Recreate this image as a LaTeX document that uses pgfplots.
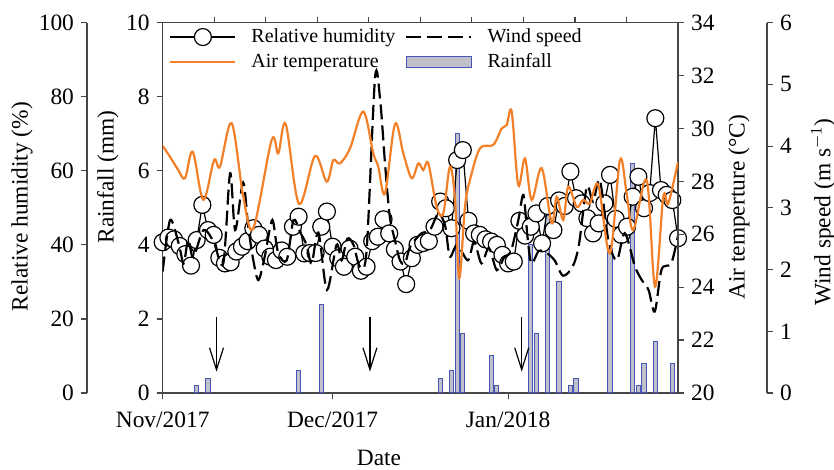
\documentclass[border=0pt]{standalone}
\usepackage{fontspec}
\setmainfont{Liberation Serif}
\usepackage{pgfplots}
\usepackage{pgfplotstable}
\pgfplotsset{compat=1.18}
\usetikzlibrary{arrows.meta}

\definecolor{tempc}{RGB}{242,128,40}
\definecolor{barfill}{RGB}{192,192,200}
\definecolor{baredge}{RGB}{70,85,185}
\definecolor{axc}{RGB}{70,70,70}

% daily relative humidity (%), day 0 = 1 Nov 2017
\pgfplotstableread{
day rh
0 40.7
1 42.0
2 41.5
3 39.7
4 37.5
5 34.4
6 41.3
7 50.8
8 44.0
9 42.7
10 36.5
11 35.0
12 35.3
13 38.2
14 39.5
15 41.0
16 44.5
17 42.7
18 39.0
19 36.8
20 35.9
21 38.5
22 36.8
23 44.9
24 47.6
25 37.7
26 37.8
27 37.8
28 44.9
29 49.0
30 39.5
31 36.4
32 34.1
33 39.0
34 36.8
35 33.0
36 34.1
37 41.0
38 42.2
39 46.9
40 43.1
41 38.8
42 35.5
43 29.4
44 36.4
45 40.0
46 40.5
47 41.0
48 44.9
49 51.7
50 49.9
51 44.5
52 62.9
53 65.6
54 46.5
55 43.1
56 42.7
57 41.5
58 40.9
59 40.0
60 37.3
61 35.0
62 35.5
63 46.5
64 42.5
65 44.9
66 48.5
67 40.4
68 50.5
69 44.0
70 52.0
71 50.5
72 59.8
73 52.6
74 51.2
75 47.2
76 43.1
77 45.8
78 51.2
79 58.9
80 47.0
81 42.7
82 44.9
83 53.0
84 58.4
85 49.9
86 54.0
87 74.2
88 54.8
89 53.5
90 52.1
91 41.8
}\rhdata

% air temperature (C)
\pgfplotstableread{
day t
0.00 29.34
1.29 28.93
2.75 28.43
3.94 28.12
5.30 29.12
7.17 27.30
9.06 28.80
10.12 28.56
12.18 30.20
14.23 27.42
16.00 26.23
19.25 29.57
20.41 29.06
21.72 30.17
24.07 27.15
26.89 28.96
28.96 27.99
30.13 28.80
31.31 28.68
33.08 29.25
35.42 30.64
37.19 29.06
38.07 28.56
39.25 27.55
41.02 30.17
42.49 29.06
43.97 28.12
45.14 28.68
46.02 28.43
46.90 28.68
48.38 27.04
49.55 26.79
50.73 28.56
51.62 27.30
52.38 24.34
53.38 27.04
54.26 28.05
56.03 29.25
58.38 29.38
59.86 30.00
60.74 30.13
61.63 30.64
62.79 27.86
63.97 28.87
65.16 27.30
66.93 28.50
68.69 26.42
69.58 27.42
70.74 26.54
71.62 27.80
73.11 27.04
74.27 27.30
75.45 27.17
76.92 27.86
78.98 25.28
80.75 28.80
81.93 27.55
83.10 26.16
85.47 28.05
86.94 24.02
88.40 27.42
89.28 27.17
91.00 28.74
}\tempdata

% wind speed (m/s)
\pgfplotstableread{
day w
0 1.97
1.3 2.80
2.8 2.43
3.7 2.10
4.5 2.48
5.4 2.20
7.2 2.64
9.0 2.45
10.7 2.10
11.9 3.56
12.8 2.64
14.2 3.41
15.1 2.70
16.0 2.15
16.9 1.83
18.0 2.20
19.0 2.70
19.5 2.78
20.4 2.27
21.9 2.15
23.1 2.80
24.3 2.60
25.4 2.40
26.3 2.10
27.5 2.60
29.0 1.67
30.7 2.40
31.6 2.15
32.6 2.50
33.7 2.40
34.8 2.05
36.0 2.30
37.5 5.11
38.4 4.75
39.3 3.67
40.1 2.86
41.0 2.48
41.9 2.15
42.8 2.10
43.7 2.37
45.7 2.59
47.2 2.64
48.7 2.91
49.9 2.70
50.7 2.21
52.0 2.40
53.9 2.15
55.0 2.45
56.3 2.10
57.6 2.35
59.0 1.99
60.3 2.20
61.5 2.30
62.8 2.80
63.7 3.21
64.4 2.55
65.1 2.10
66.4 2.30
67.8 2.27
69.2 2.15
70.7 1.90
72.4 2.05
73.5 2.40
74.9 3.34
76.0 3.10
77.2 3.45
78.7 2.48
80.2 2.15
81.6 2.59
83.4 2.05
84.6 1.83
85.8 1.67
86.9 1.32
88.1 2.00
89.8 2.10
91.0 2.55
}\winddata

% rainfall (mm)
\pgfplotstableread{
day r
6 0.2
8 0.4
24 0.6
28 2.4
49 0.4
51 0.6
52 7.0
53 1.6
58 1.0
59 0.2
65 4.0
66 1.6
68 4.8
70 3.0
72 0.2
73 0.4
79 3.9
83 6.2
84 0.2
85 0.8
87 1.4
90 0.8
}\raindata

\pgfplotsset{
  base/.style={
    scale only axis, width=257.65pt, height=185.15pt,
    at={(81.35pt,38.5pt)}, anchor=south west,
    xmin=0, xmax=91,
    tick align=outside, major tick length=3pt,
    tick style={axc, line width=0.6pt},
    axis line style={axc, line width=0.7pt},
    /pgf/number format/assume math mode=true,
    tick label style={font=\fontsize{11.7}{14}\selectfont},
  },
  hidden/.style={axis lines=none, xtick=\empty, ytick=\empty},
  rhleg/.style={legend image code/.code={
    \draw[##1] (0pt,0pt) -- (32.5pt,0pt);
    \draw[##1] plot coordinates {(16.25pt,0pt)};}},
  lineleg/.style={legend image code/.code={
    \draw[##1] (0pt,0pt) -- (32.5pt,0pt);}},
  barleg/.style={legend image code/.code={
    \draw[##1] (0pt,-2.75pt) rectangle (32.5pt,2.75pt);}},
}

\begin{document}
\begin{tikzpicture}
\path[use as bounding box] (0,0) rectangle (417pt,235pt);

% rainfall, main frame
\begin{axis}[base, ymin=0, ymax=10, ytick={0,2,...,10},
  xtick={0,30,61}, xticklabels={Nov/2017,Dec/2017,Jan/2018},
  xticklabel style={yshift=-3pt},
  xtick pos=bottom, ytick pos=left]
\addplot[ybar, bar width=0.75, bar shift=0pt, fill=barfill, draw=baredge, line width=0.5pt]
  table[x=day, y=r] {\raindata};
\draw[line width=0.6pt, -{Straight Barb[length=11pt,width=7pt]}] (axis cs:9.5,2.06) -- (axis cs:9.5,0.575);
\draw[line width=0.6pt, -{Straight Barb[length=11pt,width=7pt]}] (axis cs:36.6,2.06) -- (axis cs:36.6,0.575);
\draw[line width=0.6pt, -{Straight Barb[length=11pt,width=7pt]}] (axis cs:63.4,2.06) -- (axis cs:63.4,0.575);
\end{axis}

% relative humidity data
\begin{axis}[base, hidden, ymin=0, ymax=100, clip=false]
\addplot[black, line width=0.6pt, mark=*, mark size=4.25pt,
  mark options={fill=white, draw=black, line width=0.6pt}]
  table[x=day, y=rh] {\rhdata};
\end{axis}

% wind speed data
\begin{axis}[base, hidden, ymin=0, ymax=6]
\addplot[black, line width=1.1pt, dash pattern=on 7.5pt off 3pt, smooth, tension=0.5]
  table[x=day, y=w] {\winddata};
\end{axis}

% air temperature, right inner axis and top ticks, legend
\begin{axis}[base, ymin=20, ymax=34, ytick={20,22,...,34},
  axis y line*=right, axis x line*=top,
  xtick={9.1,18.2,27.3,36.4,45.5,54.6,63.7,72.8,81.9}, xticklabels={},
  legend columns=2, legend cell align=left,
  legend style={at={(0.012,0.992)}, anchor=north west, draw=none, fill=none,
    font=\fontsize{10}{12}\selectfont, inner sep=0pt,
    nodes={inner sep=1pt, text height=7pt, text depth=2pt},
    /tikz/every odd column/.style={column sep=6.5pt},
    /tikz/every even column/.style={column sep=4pt},
    row sep=1.5pt}]
\addlegendimage{rhleg, black, line width=0.6pt, mark=*, mark size=4.25pt,
  mark options={fill=white, draw=black, line width=0.6pt}}
\addlegendentry{Relative humidity}
\addlegendimage{lineleg, black, line width=1.1pt, dash pattern=on 7.5pt off 3pt}
\addlegendentry{Wind speed}
\addlegendimage{lineleg, tempc, line width=1.1pt}
\addlegendentry{Air temperature}
\addlegendimage{barleg, fill=barfill, draw=baredge, line width=0.5pt}
\addlegendentry{Rainfall}
\addplot[tempc, line width=1.1pt, smooth, tension=0.55, forget plot]
  table[x=day, y=t] {\tempdata};
\end{axis}

% outer left axis: relative humidity
\begin{axis}[scale only axis, width=20pt, height=185.15pt,
  at={(43.5pt,38.5pt)}, anchor=south west,
  xmin=0, xmax=1, ymin=0, ymax=100, ytick={0,20,...,100},
  axis y line*=left, axis x line=none,
  tick align=outside, major tick length=3pt,
  tick style={axc, line width=0.6pt}, axis line style={axc, line width=0.7pt},
  /pgf/number format/assume math mode=true,
  tick label style={font=\fontsize{11.7}{14}\selectfont}]
\end{axis}

% outer right axis: wind speed
\begin{axis}[scale only axis, width=20pt, height=185.15pt,
  at={(383.5pt,38.5pt)}, anchor=south east,
  xmin=0, xmax=1, ymin=0, ymax=6, ytick={0,1,...,6},
  axis y line*=right, axis x line=none,
  tick align=outside, major tick length=3pt,
  tick style={axc, line width=0.6pt}, axis line style={axc, line width=0.7pt},
  /pgf/number format/assume math mode=true,
  tick label style={font=\fontsize{11.7}{14}\selectfont}]
\end{axis}

\begin{scope}[every node/.style={font=\fontsize{11.7}{14}\selectfont, inner sep=0pt}]
\node[rotate=90] at (11pt,131.65pt) {Relative humidity (\%)};
\node[rotate=90] at (54pt,146.5pt) {Rainfall (mm)};
\node[rotate=90] at (369.5pt,131.25pt) {Air temperture (°C)};
\node[rotate=90] at (411.65pt,129pt) {Wind speed (m s$^{-1}$)};
\node[anchor=base] at (189.5pt,2pt) {Date};
\end{scope}
\end{tikzpicture}
\end{document}
